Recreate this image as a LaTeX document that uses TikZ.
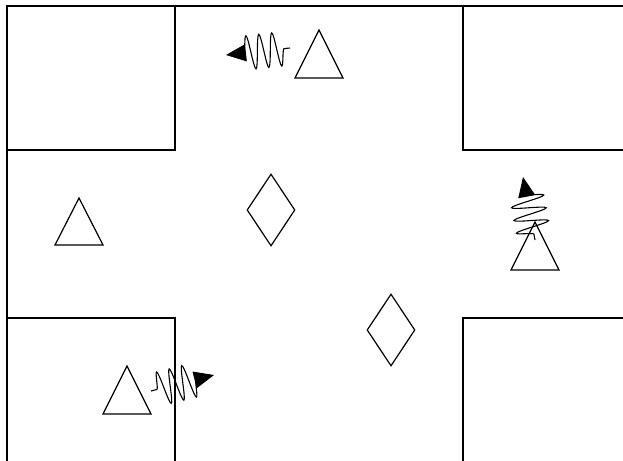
\documentclass[tikz,border=0pt]{standalone}
\usetikzlibrary{decorations.pathmorphing,arrows.meta,shapes.geometric}
\begin{document}
\begin{tikzpicture}[x=1pt,y=-1pt,line width=1.2pt,
  wall/.style={draw=black,line cap=rect},
  tri/.style={draw=black,line join=miter},
  dia/.style={draw=black,shape=diamond,aspect=0.667,minimum width=48pt,minimum height=72pt,inner sep=0pt,line width=1.2pt},
  squig/.style={draw=black,line width=1.1pt,decorate,decoration={snake,amplitude=17pt,segment length=13pt,pre length=6pt,post length=14pt},-{Triangle[length=20pt,width=17pt]}}]
\useasboundingbox (0,0) rectangle (623,460);
% walls
\draw[wall] (7,460) -- (7,6) -- (623,6);
\draw[wall] (7,150) -- (175,150) -- (175,6);
\draw[wall] (623,150) -- (463,150) -- (463,6);
\draw[wall] (7,318) -- (175,318) -- (175,460);
\draw[wall] (623,318) -- (463,318) -- (463,460);
% triangles
\draw[tri] (319,30) -- (343,78) -- (295,78) -- cycle;
\draw[tri] (79,198) -- (103,245) -- (55,245) -- cycle;
\draw[tri] (127,366) -- (151,414) -- (103,414) -- cycle;
\draw[tri] (535,222) -- (559,270) -- (511,270) -- cycle;
% diamonds
\node[dia] (d1) at (271,210) {};
\node[dia] (d2) at (391,330) {};
% squiggly arrows
\coordinate (s1) at (290,48); \coordinate (e1) at (226,55);
\coordinate (s2) at (535,240); \coordinate (e2) at (523,177);
\coordinate (s3) at (151,391); \coordinate (e3) at (214,375);
\draw[squig] (s1) -- (e1);
\draw[squig] (s2) -- (e2);
\draw[squig] (s3) -- (e3);
\end{tikzpicture}
\end{document}
